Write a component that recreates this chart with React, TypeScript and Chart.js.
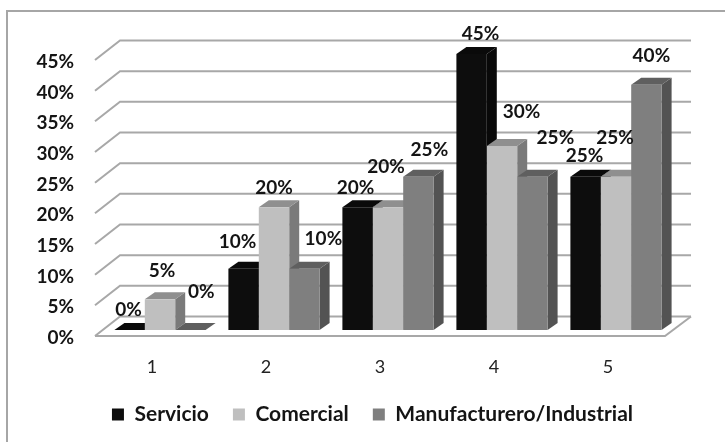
import React, { useEffect, useRef } from "react";
import { Chart, registerables } from "chart.js";

Chart.register(...registerables);

const categories = ["1", "2", "3", "4", "5"];
const servicio = [0, 10, 20, 45, 25];
const comercial = [5, 20, 20, 30, 25];
const manufacturero = [0, 10, 25, 25, 40];
const yTicks = [0, 5, 10, 15, 20, 25, 30, 35, 40, 45];

const FONT = "Lato";
const BAR_DX = 8;
const BAR_DY = -6;
const DEPTH_X = 10;
const DEPTH_Y = -7;
const WALL_X = 25;
const WALL_Y = -19.5;

// label offsets from the top centre of each bar
const labelDx = [
  [-1, -6, -2, 9, -1],
  [2, 0, -2, 19.5, -1],
  [11, 19, 11, 23, 5],
];
const labelDy = [
  [-20, -27, -19, -20, -21],
  [-28, -19, -40, -34, -39],
  [-38, -30, -27, -39, -29],
];

const faces = ["#0d0d0d", "#bfbfbf", "#7f7f7f"];
const tops = ["#0a0a0a", "#8f8f8f", "#5f5f5f"];
const sides = ["#090909", "#7a7a7a", "#535353"];

const scene3d = {
  id: "scene3d",
  afterLayout(chart: any) {
    const l = chart.legend;
    if (l) {
      l.left += 40;
      l.right += 40;
      l.top -= 7;
      l.bottom -= 7;
    }
  },
  beforeDraw(chart: any) {
    const { ctx, width, height } = chart;
    ctx.save();
    ctx.fillStyle = "#ffffff";
    ctx.fillRect(0, 0, width, height);
    ctx.strokeStyle = "#a6a6a6";
    ctx.lineWidth = 2;
    ctx.beginPath();
    ctx.moveTo(7, height);
    ctx.lineTo(7, 11);
    ctx.lineTo(width, 11);
    ctx.stroke();
    ctx.restore();
  },
  beforeDatasetsDraw(chart: any) {
    const { ctx, chartArea, scales } = chart;
    const y = scales.y;
    const { left, right } = chartArea;
    ctx.save();
    ctx.lineCap = "butt";
    ctx.strokeStyle = "#a8a8a8";
    ctx.lineWidth = 2;
    yTicks.forEach((v) => {
      const py = y.getPixelForValue(v);
      ctx.beginPath();
      ctx.moveTo(left, py);
      ctx.lineTo(left + WALL_X, py + WALL_Y);
      ctx.lineTo(right + WALL_X + 1, py + WALL_Y);
      ctx.stroke();
    });
    const base = y.getPixelForValue(0);
    ctx.beginPath();
    ctx.moveTo(left, base);
    ctx.lineTo(right, base);
    ctx.lineTo(right + WALL_X + 1, base + WALL_Y);
    ctx.stroke();
    ctx.restore();

    ctx.save();
    ctx.translate(BAR_DX, BAR_DY);
    const metas = [0, 1, 2].map((i) => chart.getDatasetMeta(i));
    categories.forEach((_, c) => {
      metas.forEach((meta, s) => {
        const el = meta.data[c];
        const w = el.width;
        const x0 = el.x - w / 2;
        const x1 = el.x + w / 2;
        const top = el.y;
        const bottom = el.base;
        ctx.fillStyle = sides[s];
        ctx.beginPath();
        ctx.moveTo(x1, top);
        ctx.lineTo(x1 + DEPTH_X, top + DEPTH_Y);
        ctx.lineTo(x1 + DEPTH_X, bottom + DEPTH_Y);
        ctx.lineTo(x1, bottom);
        ctx.closePath();
        ctx.fill();
        ctx.fillStyle = tops[s];
        ctx.beginPath();
        ctx.moveTo(x0, top);
        ctx.lineTo(x1, top);
        ctx.lineTo(x1 + DEPTH_X, top + DEPTH_Y);
        ctx.lineTo(x0 + DEPTH_X, top + DEPTH_Y);
        ctx.closePath();
        ctx.fill();
      });
    });
  },
  afterDatasetsDraw(chart: any) {
    const { ctx } = chart;
    ctx.restore();
    ctx.save();
    ctx.font = `bold 19px ${FONT}`;
    ctx.fillStyle = "#141414";
    ctx.textAlign = "center";
    ctx.textBaseline = "middle";
    [servicio, comercial, manufacturero].forEach((series, s) => {
      const meta = chart.getDatasetMeta(s);
      series.forEach((v, c) => {
        const el = meta.data[c];
        ctx.fillText(
          `${v}%`,
          el.x + BAR_DX + labelDx[s][c],
          el.y + BAR_DY + labelDy[s][c]
        );
      });
    });
    ctx.restore();
  },
};

export default function App() {
  const ref = useRef<HTMLCanvasElement | null>(null);
  useEffect(() => {
    document.body.style.margin = "0";
    const chart = new Chart(ref.current as HTMLCanvasElement, {
      type: "bar",
      data: {
        labels: categories,
        datasets: [
          { label: "Servicio", data: servicio, backgroundColor: faces[0], clip: false },
          { label: "Comercial", data: comercial, backgroundColor: faces[1], clip: false },
          { label: "Manufacturero/Industrial", data: manufacturero, backgroundColor: faces[2], clip: false },
        ] as any,
      },
      options: {
        responsive: false,
        animation: false,
        devicePixelRatio: 1,
        layout: { padding: { top: 60, right: 60, left: 0, bottom: 0 } },
        datasets: { bar: { categoryPercentage: 0.8, barPercentage: 1 } },
        scales: {
          x: {
            grid: { display: false, drawTicks: false },
            border: { display: false },
            ticks: { color: "#222", font: { family: FONT, size: 18 }, padding: 20, maxRotation: 0 },
            afterFit(s: any) {
              s.height = 442 - 336 - (s.chart.legend?.height ?? 69);
            },
          },
          y: {
            min: 0,
            max: 45,
            grid: { display: false, drawTicks: false },
            border: { display: false },
            ticks: {
              stepSize: 5,
              color: "#141414",
              padding: 21,
              labelOffset: 2,
              font: { family: FONT, size: 19, weight: "bold" },
              callback: (v: any) => `${v}%`,
            },
            afterFit(s: any) {
              s.width = 95;
            },
          },
        },
        plugins: {
          tooltip: { enabled: false },
          legend: {
            position: "bottom",
            labels: {
              boxWidth: 12,
              boxHeight: 12,
              padding: 24,
              color: "#141414",
              font: { family: FONT, size: 21, weight: "bold" },
            },
          },
        },
      } as any,
      plugins: [scene3d],
    });
    return () => chart.destroy();
  }, []);
  return <canvas ref={ref} width={725} height={442} style={{ display: "block" }} />;
}
